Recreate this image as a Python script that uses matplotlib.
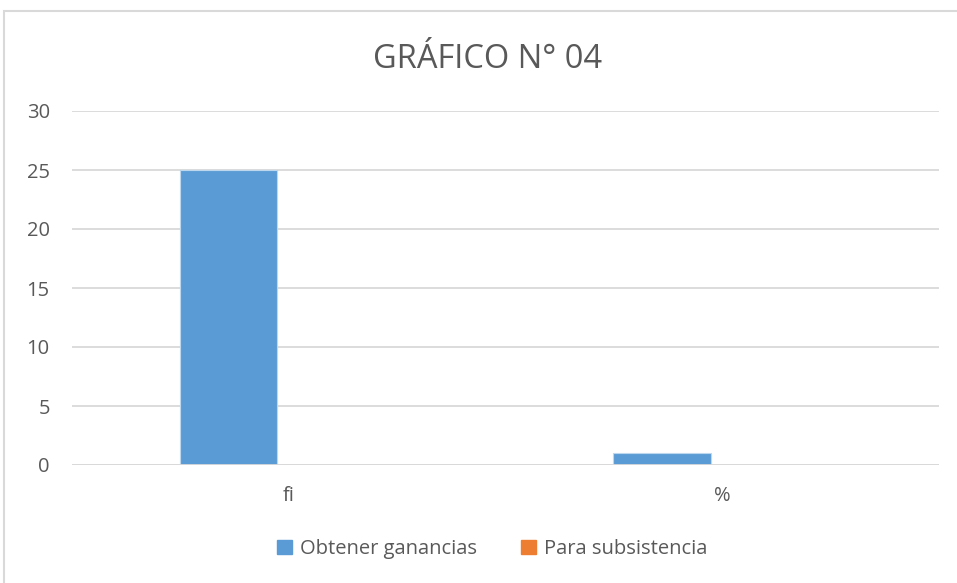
import matplotlib.pyplot as plt
import matplotlib.patches as mpatches
import numpy as np

# Data
categories = ['fi', '%']
series_names = ['Obtener ganancias', 'Para subsistencia']
ganancias = [25, 1]
subsistencia = [0, 0]
y_ticks = [0, 5, 10, 15, 20, 25, 30]

blue = '#5B9BD5'
orange = '#ED7D31'
text_color = '#595959'
grid_color = '#D9D9D9'

plt.rcParams['font.family'] = ['Open Sans', 'DejaVu Sans']

W, H = 957, 583
fig = plt.figure(figsize=(W / 100, H / 100), dpi=100)

# outer chart border (runs off the right and bottom edges)
fig.patches.append(mpatches.Rectangle((4 / W, -0.1), 1, 1.1 - 11 / H, transform=fig.transFigure,
                                      fill=False, edgecolor=grid_color, linewidth=1.5))

ax = fig.add_axes([72 / W, 1 - 465 / H, (939 - 72) / W, (465 - 111) / H])

x = np.arange(len(categories))
width = 0.225
offset = 0.139
ax.bar(x - offset, ganancias, width, color=blue, edgecolor='#BDD7EE', linewidth=0.8,
       label=series_names[0], zorder=3)
ax.bar(x + offset, subsistencia, width, color=orange, label=series_names[1], zorder=3)

ax.set_xlim(-0.5, 1.5)
ax.set_ylim(0, 30)
ax.set_yticks(y_ticks)
ax.set_xticks(x)
ax.set_xticklabels(categories)
ax.yaxis.grid(True, color=grid_color, linewidth=1.3, zorder=0)
for s in ax.spines.values():
    s.set_visible(False)
ax.axhline(0, color=grid_color, linewidth=1.3, zorder=4)
ax.tick_params(axis='both', length=0, labelsize=14.5, labelcolor=text_color)
ax.tick_params(axis='y', pad=16)
ax.tick_params(axis='x', pad=15)

fig.text(488 / W, 1 - 59 / H, 'GRÁFICO N° 04', ha='center', va='center',
         fontsize=23.5, color=text_color)

handles = [mpatches.Patch(color=blue), mpatches.Patch(color=orange)]
fig.legend(handles, series_names, loc='center', bbox_to_anchor=(492 / W, 1 - 549 / H),
           ncol=2, frameon=False, fontsize=14.5, labelcolor=text_color,
           handlelength=0.75, handleheight=0.75, handletextpad=0.4, columnspacing=2.2)

fig.savefig('out.png', dpi=100)
